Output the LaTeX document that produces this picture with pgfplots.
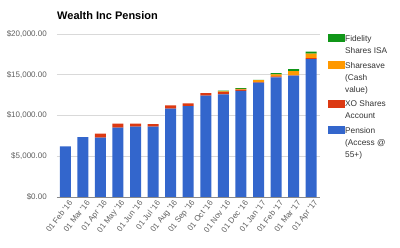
\documentclass[border=0pt]{standalone}
\usepackage{fontspec}
\setmainfont{Liberation Sans}
\usepackage{pgfplots}
\pgfplotsset{compat=1.18}
\definecolor{gblue}{HTML}{3366CC}
\definecolor{gred}{HTML}{DC3912}
\definecolor{gorange}{HTML}{FF9900}
\definecolor{ggreen}{HTML}{109618}
\definecolor{labelgray}{HTML}{5F5F5F}
\definecolor{gridgray}{HTML}{D9D9D9}
\definecolor{basegray}{HTML}{8A8A8A}
\definecolor{legtext}{HTML}{333333}
\begin{document}
\begin{tikzpicture}
\path[use as bounding box] (0pt,0pt) rectangle (400pt,248pt);
\begin{axis}[
  at={(57pt,51pt)}, anchor=south west,
  scale only axis, width=263pt, height=163pt,
  ybar stacked, bar width=11pt,
  xmin=-0.47, xmax=14.5, ymin=0, ymax=20000,
  scaled y ticks=false,
  xtick={0,...,14},
  xticklabels={01 Feb \textquotesingle16, 01 Mar \textquotesingle16, 01 Apr \textquotesingle16, 01 May \textquotesingle16, 01 Jun \textquotesingle16, 01 Jul \textquotesingle16, 01 Aug \textquotesingle16, 01 Sep \textquotesingle16, 01 Oct \textquotesingle16, 01 Nov \textquotesingle16, 01 Dec \textquotesingle16, 01 Jan \textquotesingle17, 01 Feb \textquotesingle17, 01 Mar \textquotesingle17, 01 Apr \textquotesingle17},
  xticklabel style={rotate=52, anchor=east, inner sep=0pt, yshift=-7pt, font=\fontsize{8}{9.6}\selectfont, text=labelgray},
  ytick={5000,10000,15000,20000},
  yticklabels={{\$5,000.00}, {\$10,000.00}, {\$15,000.00}, {\$20,000.00}},
  extra y ticks={0}, extra y tick labels={{\$0.00}},
  extra y tick style={grid style={basegray, line width=0.8pt}},
  yticklabel style={font=\fontsize{8}{9.6}\selectfont, text=labelgray, inner sep=0pt, xshift=-10pt},
  ymajorgrids, grid style={gridgray, line width=0.6pt},
  axis line style={draw=none},
  major tick length=0pt,
  title={\textbf{Wealth Inc Pension}},
  title style={at={(0,1)}, anchor=base west, yshift=8pt, inner sep=0pt, font=\fontsize{11}{13}\selectfont},
  legend style={draw=none, fill=none, at={(1,1)}, anchor=north west, xshift=8pt, yshift=0pt, inner sep=0pt, row sep=6pt,
    font=\fontsize{8.3}{12}\selectfont, text=legtext,
    nodes={inner sep=0pt, align=left, xshift=8pt}},
  legend cell align=left,
  reverse legend,
]
\addplot[fill=gblue, draw=none, legend image code/.code={\fill[gblue] (0pt,9pt) rectangle (17pt,17pt);}] coordinates {(0,6200) (1,7350) (2,7300) (3,8500) (4,8630) (5,8630) (6,10830) (7,11160) (8,12430) (9,12600) (10,13020) (11,14030) (12,14690) (13,14880) (14,16930)};
\addplot[fill=gred, draw=none, legend image code/.code={\fill[gred] (0pt,3pt) rectangle (17pt,11pt);}] coordinates {(0,0) (1,0) (2,470) (3,500) (4,370) (5,300) (6,420) (7,340) (8,330) (9,300) (10,150) (11,50) (12,100) (13,50) (14,100)};
\addplot[fill=gorange, draw=none, legend image code/.code={\fill[gorange] (0pt,9pt) rectangle (17pt,17pt);}] coordinates {(0,0) (1,0) (2,0) (3,0) (4,0) (5,0) (6,0) (7,0) (8,0) (9,50) (10,100) (11,250) (12,250) (13,500) (14,550)};
\addplot[fill=ggreen, draw=none, legend image code/.code={\fill[ggreen] (0pt,3pt) rectangle (17pt,11pt);}] coordinates {(0,0) (1,0) (2,0) (3,0) (4,0) (5,0) (6,0) (7,0) (8,0) (9,100) (10,100) (11,50) (12,150) (13,250) (14,250)};
\legend{{Pension\\(Access @\\55+)}, {XO Shares\\Account}, {Sharesave\\(Cash\\value)}, {Fidelity\\Shares ISA}}
\end{axis}
\end{tikzpicture}
\end{document}
